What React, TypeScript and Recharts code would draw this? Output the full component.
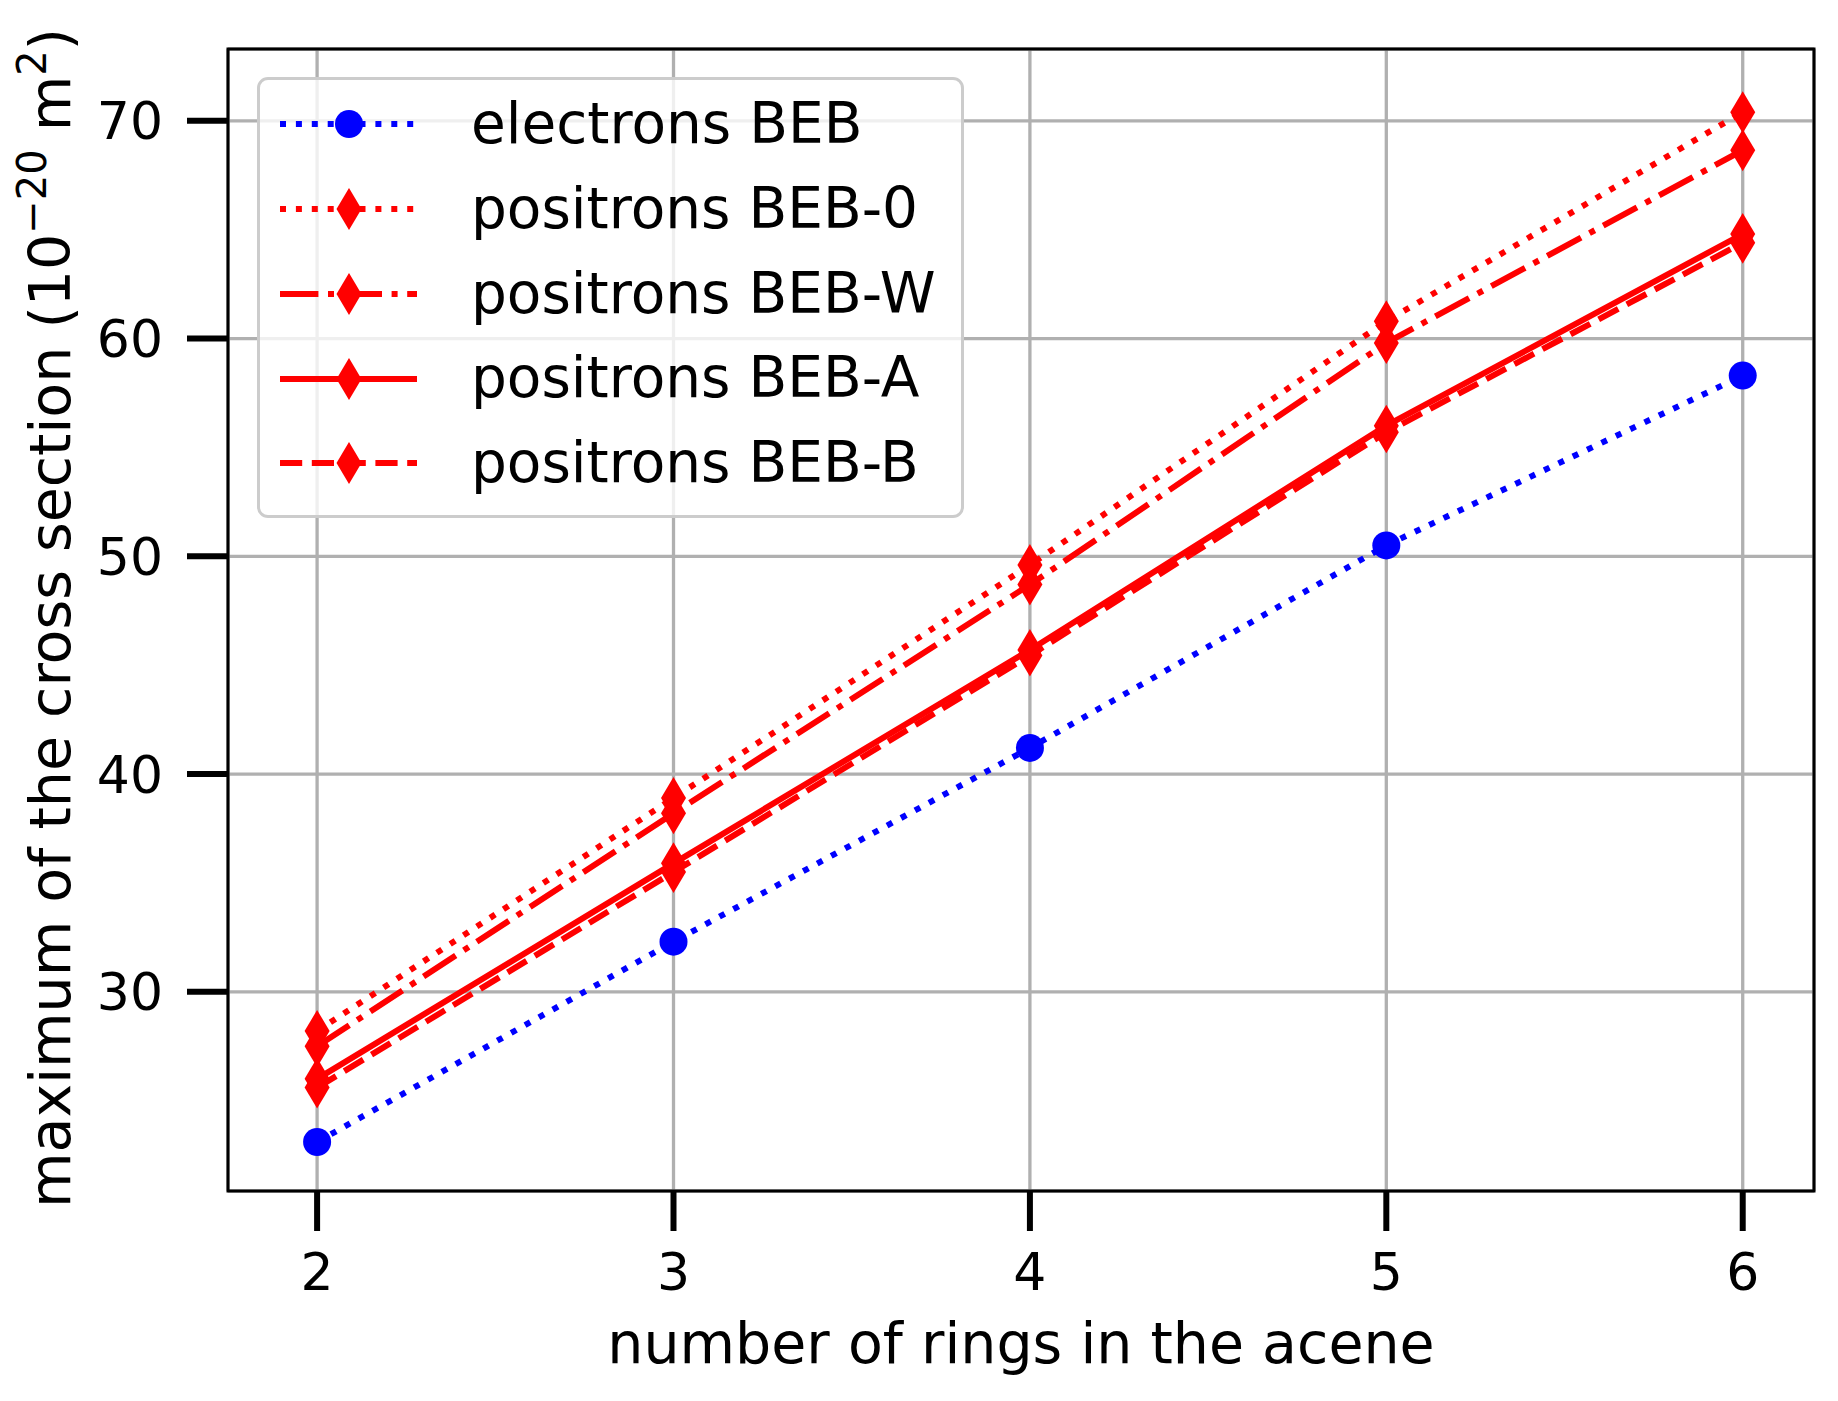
import React from 'react';
import { LineChart, Line, XAxis, YAxis, CartesianGrid, ReferenceArea, Legend, Label } from 'recharts';

// number of rings in the acene
const rings = [2, 3, 4, 5, 6];

// maximum of the cross section (1e-20 m^2)
const electronsBEB = [23.1, 32.3, 41.2, 50.5, 58.3];
const positronsBEB0 = [28.2, 38.9, 49.6, 60.8, 70.4];
const positronsBEBW = [27.5, 38.2, 48.7, 59.8, 68.65];
const positronsBEBA = [26.0, 35.9, 45.7, 56.0, 64.8];
const positronsBEBB = [25.6, 35.5, 45.45, 55.7, 64.4];

const xTicks = [2, 3, 4, 5, 6];
const yTicks = [30, 40, 50, 60, 70];
const xDomain = [1.75, 6.2];
const yDomain = [20.85, 73.3];

const FONT = 'DejaVu Sans, sans-serif';
const BLUE = '#0000ff';
const RED = '#ff0000';
const LW = 6;

const DOTTED = `${LW} ${LW * 1.65}`;
const DASHED = `${LW * 3.7} ${LW * 1.6}`;
const DASHDOT = `${LW * 6.4} ${LW * 1.6} ${LW} ${LW * 1.6}`;

type SeriesDef = {
  key: string;
  name: string;
  color: string;
  dash?: string;
  marker: 'circle' | 'diamond';
  values: number[];
};

const series: SeriesDef[] = [
  { key: 'e', name: 'electrons BEB', color: BLUE, dash: DOTTED, marker: 'circle', values: electronsBEB },
  { key: 'b0', name: 'positrons BEB-0', color: RED, dash: DOTTED, marker: 'diamond', values: positronsBEB0 },
  { key: 'bw', name: 'positrons BEB-W', color: RED, dash: DASHDOT, marker: 'diamond', values: positronsBEBW },
  { key: 'ba', name: 'positrons BEB-A', color: RED, marker: 'diamond', values: positronsBEBA },
  { key: 'bb', name: 'positrons BEB-B', color: RED, dash: DASHED, marker: 'diamond', values: positronsBEBB },
];

const data = rings.map((x, i) => {
  const row: Record<string, number> = { x };
  series.forEach((s) => {
    row[s.key] = s.values[i];
  });
  return row;
});

const Marker = ({ type, cx, cy, color }: { type: string; cx: number; cy: number; color: string }) => {
  if (type === 'circle') {
    return <circle cx={cx} cy={cy} r={14} fill={color} stroke="none" />;
  }
  const hw = 12.5;
  const hh = 21;
  return (
    <polygon
      points={`${cx},${cy - hh} ${cx + hw},${cy} ${cx},${cy + hh} ${cx - hw},${cy}`}
      fill={color}
      stroke="none"
    />
  );
};

const makeDot = (s: SeriesDef) => (props: any) => {
  const { cx, cy, index } = props;
  if (cx == null || cy == null) return <g key={`${s.key}-${index}`} />;
  return (
    <g key={`${s.key}-${index}`}>
      <Marker type={s.marker} cx={cx} cy={cy} color={s.color} />
    </g>
  );
};

const LegendBox = () => (
  <div
    style={{
      width: 707,
      height: 441,
      boxSizing: 'border-box',
      border: '3px solid #cccccc',
      borderRadius: 11,
      background: 'rgba(255,255,255,0.8)',
      paddingTop: 2,
    }}
  >
    {series.map((s) => (
      <div key={s.key} style={{ display: 'flex', alignItems: 'center', height: 84.75 }}>
        <svg width={211} height={60} style={{ flex: 'none' }}>
          <line
            x1={20}
            y1={30}
            x2={157}
            y2={30}
            stroke={s.color}
            strokeWidth={LW}
            strokeDasharray={s.dash}
          />
          <Marker type={s.marker} cx={89} cy={30} color={s.color} />
        </svg>
        <span style={{ fontFamily: FONT, fontSize: 56.5, lineHeight: 1, color: '#000', whiteSpace: 'nowrap' }}>
          {s.name}
        </span>
      </div>
    ))}
  </div>
);

const App = () => {
  return (
    <div style={{ position: 'absolute', left: 0, top: 0, background: '#fff' }}>
      <LineChart width={1838} height={1401} data={data} margin={{ top: 49, right: 24, left: 0, bottom: 0 }}>
        <CartesianGrid stroke="#b0b0b0" strokeWidth={3.3} />
        <XAxis
          dataKey="x"
          type="number"
          domain={xDomain}
          ticks={xTicks}
          allowDataOverflow
          height={210}
          axisLine={false}
          tickSize={40}
          tickMargin={22}
          tickLine={{ stroke: '#000', strokeWidth: 6 }}
          tick={{ fill: '#000', fontSize: 52, fontFamily: FONT }}
        >
          <Label
            content={() => (
              <text x={1021} y={1363} textAnchor="middle" fill="#000" fontSize={57} fontFamily={FONT}>
                number of rings in the acene
              </text>
            )}
          />
        </XAxis>
        <YAxis
          type="number"
          domain={yDomain}
          ticks={yTicks}
          allowDataOverflow
          width={228}
          axisLine={false}
          tickSize={41}
          tickMargin={24}
          tickLine={{ stroke: '#000', strokeWidth: 6 }}
          tick={{ fill: '#000', fontSize: 52, fontFamily: FONT }}
        >
          <Label
            content={() => (
              <text
                x={70}
                y={618}
                transform="rotate(-90 70 618)"
                textAnchor="middle"
                fill="#000"
                fontSize={57}
                fontFamily={FONT}
              >
                maximum of the cross section (10
                <tspan dy={-24} fontSize={40}>
                  −20
                </tspan>
                <tspan dy={24}> m</tspan>
                <tspan dy={-24} fontSize={40}>
                  2
                </tspan>
                <tspan dy={24}>)</tspan>
              </text>
            )}
          />
        </YAxis>
        <ReferenceArea
          x1={xDomain[0]}
          x2={xDomain[1]}
          y1={yDomain[0]}
          y2={yDomain[1]}
          fill="none"
          stroke="#000"
          strokeWidth={3}
          ifOverflow="visible"
        />
        {series.map((s) => (
          <Line
            key={s.key}
            type="linear"
            dataKey={s.key}
            name={s.name}
            stroke={s.color}
            strokeWidth={LW}
            strokeDasharray={s.dash}
            dot={makeDot(s)}
            activeDot={false}
            isAnimationActive={false}
          />
        ))}
        <Legend
          layout="horizontal"
          verticalAlign="middle"
          align="center"
          content={() => <LegendBox />}
          wrapperStyle={{ position: 'absolute', left: 257, top: 77, width: 707, height: 441 }}
        />
      </LineChart>
    </div>
  );
};

export default App;
